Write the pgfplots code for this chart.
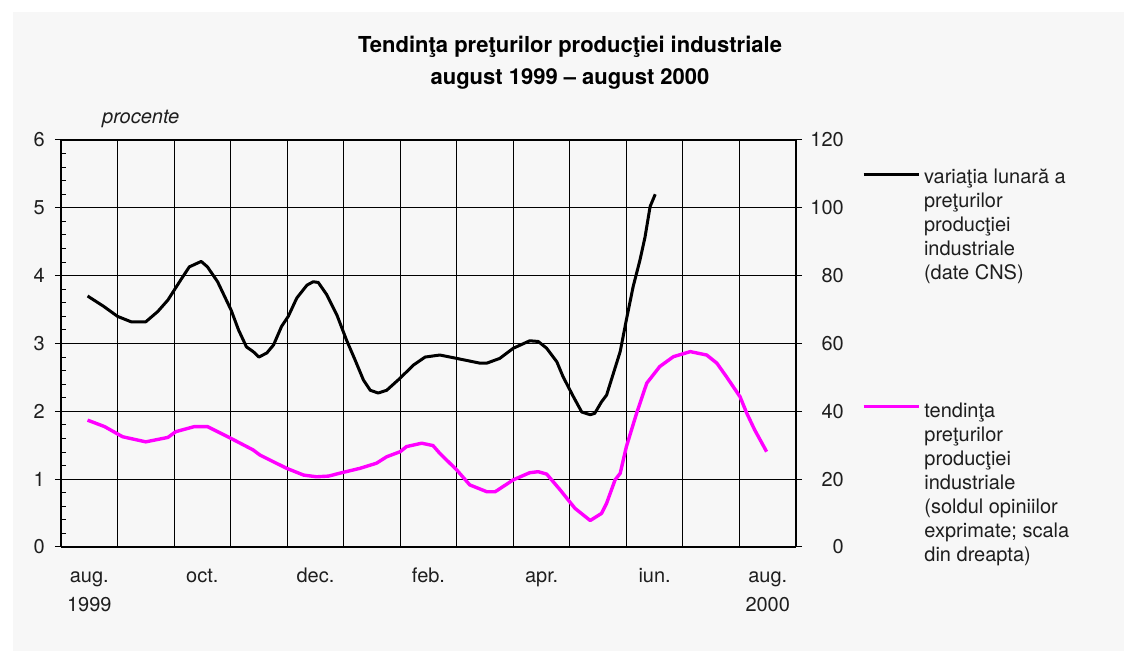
\documentclass[border=0pt]{standalone}
\usepackage{pgfplots}
\pgfplotsset{compat=1.18}
\usepackage{fontspec}
\setmainfont{TeX Gyre Heros}
\definecolor{bg}{HTML}{F7F7F7}
\definecolor{mag}{HTML}{FF00FF}
\definecolor{txt}{HTML}{1E1E1E}
\newcommand{\f}{\fontsize{20bp}{24bp}\selectfont}

\begin{document}
\begin{tikzpicture}[x=1bp,y=1bp]
\useasboundingbox (0,0) rectangle (1124,651);
\fill[white] (0,0) rectangle (1124,651);
\fill[bg] (13,0) rectangle (1124,639);
\node[anchor=base, inner sep=0pt, text=black, font=\fontsize{22bp}{26bp}\selectfont\bfseries] at (570,598) {Tendinţa preţurilor producţiei industriale};
\node[anchor=base, inner sep=0pt, text=black, font=\fontsize{22bp}{26bp}\selectfont\bfseries] at (570,566) {august 1999 – august 2000};
\node[anchor=base west, inner sep=0pt, text=txt, font=\f\itshape] at (102,527) {procente};

\begin{axis}[
  at={(61bp,104bp)}, anchor=south west,
  scale only axis, width=735bp, height=407bp,
  xmin=0, xmax=13, ymin=0, ymax=6,
  axis x line*=bottom, axis y line*=left,
  axis line style={line width=2bp, -, black},
  /pgf/number format/assume math mode=true,
  tick label style={font=\f, text=txt},
  tick align=outside, major tick length=6bp,
  tick style={line width=1bp, black},
  xtick={0.5,2.5,4.5,6.5,8.5,10.5,12.5},
  xticklabels={aug.,oct.,dec.,feb.,apr.,iun.,aug.},
  x tick style={draw=none},
  xticklabel style={anchor=base, inner sep=0pt, yshift=-30bp},
  extra x ticks={0.5,12.5},
  extra x tick labels={\raisebox{-29bp}{1999},\raisebox{-29bp}{2000}},
  extra x tick style={grid=none},
  minor xtick={1,2,...,12},
  minor x tick style={draw=none},
  xminorgrids=true,
  minor grid style={line width=1bp, black},
  ytick={0,1,...,6},
  ymajorgrids=true,
  major grid style={line width=1bp, black},
  yticklabel style={anchor=east, inner sep=0pt, xshift=-10bp},
  extra y ticks={0.2,0.4,0.6,0.8,1.2,1.4,1.6,1.8,2.2,2.4,2.6,2.8,3.2,3.4,3.6,3.8,4.2,4.4,4.6,4.8,5.2,5.4,5.6,5.8},
  extra y tick labels={},
  extra y tick style={grid=none, tick align=inside, major tick length=5bp},
  legend style={at={(axis description cs:1.0898,0.930)}, anchor=north west,
    draw=none, fill=none, inner sep=0pt, outer sep=0pt, font=\f,
    nodes={inner sep=0pt, text=txt}, column sep=4bp, cells={align=left}},
  legend cell align=left,
  legend image code/.code={\draw[#1] (0bp,50bp) -- (55bp,50bp);},
]
\addplot[black, line width=3bp, line join=round] coordinates {
(0.47,3.70) (0.75,3.55) (1.00,3.40) (1.24,3.32) (1.50,3.32) (1.71,3.47) (1.89,3.64)
(2.12,3.94) (2.27,4.13) (2.48,4.21) (2.59,4.13) (2.77,3.91) (3.01,3.49) (3.14,3.20)
(3.28,2.95) (3.40,2.88) (3.50,2.80) (3.64,2.86) (3.76,2.98) (3.90,3.25) (4.02,3.40)
(4.17,3.67) (4.35,3.86) (4.46,3.91) (4.55,3.90) (4.70,3.72) (4.88,3.42) (5.05,3.05)
(5.20,2.76) (5.35,2.46) (5.47,2.31) (5.61,2.27) (5.76,2.31) (6.00,2.49) (6.23,2.68)
(6.44,2.80) (6.70,2.83) (7.00,2.78) (7.41,2.71) (7.53,2.71) (7.76,2.78) (8.00,2.93)
(8.29,3.04) (8.44,3.03) (8.59,2.93) (8.77,2.73) (8.88,2.51) (9.06,2.22) (9.21,1.99)
(9.36,1.95) (9.44,1.97) (9.56,2.14) (9.65,2.24) (9.77,2.56) (9.89,2.88) (10.00,3.35)
(10.12,3.84) (10.24,4.23) (10.33,4.57) (10.42,5.02) (10.51,5.20)
};
\addlegendentry{variaţia lunară a\\preţurilor\\producţiei\\industriale\\(date CNS)}
\end{axis}

\begin{axis}[
  at={(61bp,104bp)}, anchor=south west,
  scale only axis, width=735bp, height=407bp,
  xmin=0, xmax=13, ymin=0, ymax=120,
  axis x line*=top, axis y line*=right,
  axis line style={line width=1.5bp, -, black},
  /pgf/number format/assume math mode=true,
  tick label style={font=\f, text=txt},
  tick align=outside, major tick length=6bp,
  tick style={line width=1bp, black},
  xtick=\empty,
  ytick={0,20,...,120},
  yticklabel style={anchor=east, inner sep=0pt, xshift=42bp},
  legend style={at={(axis description cs:1.0898,0.3548)}, anchor=north west,
    draw=none, fill=none, inner sep=0pt, outer sep=0pt, font=\f,
    nodes={inner sep=0pt, text=txt}, column sep=4bp, cells={align=left}},
  legend cell align=left,
  legend image code/.code={\draw[#1] (0bp,76bp) -- (55bp,76bp);},
]
\addplot[mag, line width=3.4bp, line join=round] coordinates {
(0.47,37.4) (0.77,35.5) (1.09,32.5) (1.50,31.0) (1.89,32.3) (2.03,34.0) (2.36,35.5)
(2.59,35.5) (2.95,32.5) (3.17,30.6) (3.40,28.6) (3.52,27.1) (3.99,23.2) (4.29,21.2)
(4.52,20.7) (4.73,20.9) (4.99,22.0) (5.29,23.2) (5.58,24.7) (5.76,26.6) (6.00,28.1)
(6.11,29.6) (6.38,30.6) (6.58,29.9) (6.70,27.6) (7.00,22.7) (7.23,18.3) (7.53,16.3)
(7.68,16.3) (8.00,19.8) (8.29,21.9) (8.44,22.2) (8.59,21.5) (8.83,16.8) (9.09,11.4)
(9.36,7.8) (9.56,9.9) (9.65,12.9) (9.80,19.8) (9.89,21.7) (10.00,29.6) (10.18,39.4)
(10.36,48.3) (10.59,53.2) (10.83,56.1) (11.13,57.6) (11.42,56.6) (11.60,54.2)
(11.77,50.2) (12.01,44.3) (12.13,39.4) (12.27,34.5) (12.48,28.1)
};
\addlegendentry{tendinţa\\preţurilor\\producţiei\\industriale\\(soldul opiniilor\\exprimate; scala\\din dreapta)}
\end{axis}
\end{tikzpicture}
\end{document}
